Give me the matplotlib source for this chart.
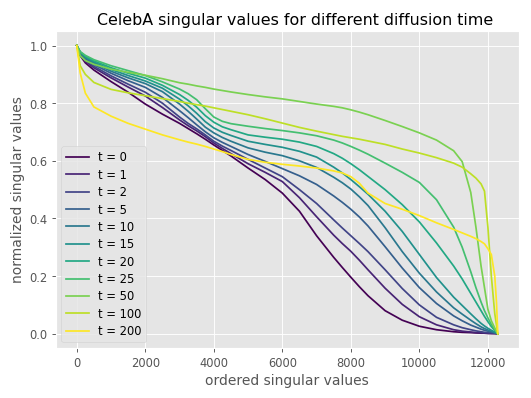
import numpy as np
import matplotlib
matplotlib.use("Agg")
import matplotlib.pyplot as plt

plt.style.use("ggplot")

# ordered singular value index (x positions of read-off points)
xs = [0, 100, 250, 500, 1000, 1500, 2000, 2500, 3000, 3250, 3500, 3750, 4000, 4250, 4500,
      5000, 5500, 6000, 6500, 7000, 7500, 7750, 8000, 8250, 8500, 9000, 9500, 10000,
      10500, 11000, 11250, 11500, 11650, 11800, 11900, 12000, 12100, 12200,
      12250, 12288]

times = [0, 1, 2, 5, 10, 15, 20, 25, 50, 100, 200]

t0 = [1.0, 0.965, 0.94, 0.915, 0.875, 0.838, 0.797, 0.762, 0.73, 0.712, 0.694, 0.675, 0.655, 0.636, 0.617,
      0.575, 0.535, 0.488, 0.425, 0.34, 0.265, 0.23, 0.196, 0.163, 0.132, 0.08, 0.047, 0.026,
      0.014, 0.007, 0.005, 0.004, 0.003, 0.002, 0.002, 0.001, 0.001, 0.0005, 0.0002, 0.0]
t1 = [1.0, 0.968, 0.946, 0.923, 0.888, 0.856, 0.825, 0.785, 0.742, 0.722, 0.704, 0.684, 0.662, 0.643, 0.625,
      0.59, 0.56, 0.528, 0.472, 0.406, 0.342, 0.313, 0.286, 0.255, 0.222, 0.158, 0.102, 0.059,
      0.031, 0.014, 0.009, 0.006, 0.004, 0.003, 0.002, 0.002, 0.001, 0.001, 0.0005, 0.0]
t2 = [1.0, 0.97, 0.95, 0.928, 0.895, 0.866, 0.838, 0.8, 0.752, 0.73, 0.711, 0.69, 0.668, 0.651, 0.636,
      0.605, 0.575, 0.545, 0.5, 0.452, 0.395, 0.367, 0.34, 0.313, 0.285, 0.222, 0.157, 0.1,
      0.057, 0.031, 0.021, 0.014, 0.01, 0.007, 0.005, 0.004, 0.003, 0.002, 0.001, 0.0]
t5 = [1.0, 0.973, 0.954, 0.934, 0.904, 0.878, 0.855, 0.82, 0.774, 0.75, 0.725, 0.701, 0.68, 0.664, 0.65,
      0.622, 0.598, 0.573, 0.548, 0.518, 0.478, 0.456, 0.432, 0.405, 0.374, 0.302, 0.228, 0.16,
      0.105, 0.062, 0.045, 0.03, 0.023, 0.016, 0.012, 0.009, 0.006, 0.003, 0.002, 0.0]
t10 = [1.0, 0.975, 0.957, 0.939, 0.911, 0.888, 0.868, 0.84, 0.797, 0.772, 0.745, 0.717, 0.697, 0.681, 0.668,
       0.645, 0.63, 0.618, 0.6, 0.577, 0.543, 0.524, 0.502, 0.475, 0.445, 0.368, 0.285, 0.21,
       0.145, 0.09, 0.068, 0.047, 0.035, 0.024, 0.018, 0.013, 0.008, 0.004, 0.002, 0.0]
t15 = [1.0, 0.977, 0.96, 0.943, 0.917, 0.896, 0.877, 0.852, 0.814, 0.791, 0.765, 0.736, 0.714, 0.699, 0.688,
       0.668, 0.657, 0.647, 0.633, 0.613, 0.578, 0.558, 0.535, 0.51, 0.484, 0.425, 0.355, 0.275,
       0.195, 0.127, 0.098, 0.069, 0.052, 0.036, 0.027, 0.019, 0.012, 0.006, 0.003, 0.0]
t20 = [1.0, 0.978, 0.963, 0.947, 0.923, 0.904, 0.887, 0.862, 0.83, 0.81, 0.786, 0.757, 0.734, 0.718, 0.708,
       0.69, 0.682, 0.675, 0.665, 0.65, 0.625, 0.609, 0.59, 0.569, 0.546, 0.5, 0.448, 0.388,
       0.315, 0.235, 0.19, 0.14, 0.11, 0.08, 0.06, 0.042, 0.025, 0.012, 0.006, 0.0]
t25 = [1.0, 0.979, 0.966, 0.951, 0.93, 0.913, 0.896, 0.874, 0.849, 0.833, 0.812, 0.781, 0.752, 0.737, 0.729,
       0.72, 0.712, 0.705, 0.697, 0.687, 0.672, 0.662, 0.65, 0.637, 0.623, 0.592, 0.56, 0.525,
       0.465, 0.37, 0.3, 0.215, 0.16, 0.11, 0.08, 0.055, 0.032, 0.014, 0.007, 0.0]
t50 = [1.0, 0.965, 0.948, 0.935, 0.918, 0.907, 0.897, 0.885, 0.871, 0.866, 0.86, 0.855, 0.849, 0.844, 0.839,
       0.83, 0.822, 0.815, 0.806, 0.797, 0.789, 0.784, 0.777, 0.769, 0.76, 0.74, 0.719, 0.697,
       0.672, 0.635, 0.597, 0.49, 0.37, 0.235, 0.16, 0.085, 0.045, 0.02, 0.008, 0.0]
t100 = [1.0, 0.93, 0.9, 0.872, 0.848, 0.836, 0.826, 0.816, 0.806, 0.8, 0.795, 0.79, 0.784, 0.778, 0.772,
        0.76, 0.746, 0.731, 0.716, 0.703, 0.691, 0.685, 0.68, 0.675, 0.669, 0.657, 0.641, 0.627,
        0.611, 0.592, 0.578, 0.555, 0.54, 0.52, 0.495, 0.37, 0.2, 0.07, 0.03, 0.0]
t200 = [1.0, 0.905, 0.835, 0.787, 0.755, 0.73, 0.71, 0.69, 0.673, 0.665, 0.658, 0.65, 0.641, 0.632, 0.622,
        0.605, 0.595, 0.588, 0.582, 0.575, 0.565, 0.558, 0.545, 0.522, 0.488, 0.452, 0.432, 0.41,
        0.385, 0.362, 0.35, 0.338, 0.33, 0.32, 0.312, 0.295, 0.275, 0.2, 0.11, 0.0]

series = [t0, t1, t2, t5, t10, t15, t20, t25, t50, t100, t200]

fig = plt.figure(figsize=(6.4, 4.8), dpi=83)
ax = fig.add_axes([0.1049, 0.1251, 0.8718, 0.7957])
colors = plt.cm.viridis(np.linspace(0, 1, len(times)))
for t, ys, c in zip(times, series, colors):
    ax.plot(xs, ys, color=c, lw=1.5, label=f"t = {t}")

ax.set_xlabel("ordered singular values")
ax.set_ylabel("normalized singular values")
ax.set_title("CelebA singular values for different diffusion time", fontsize=13.8, x=0.517)
ax.legend(loc="lower left", labelspacing=0.38)
fig.savefig("out.png", dpi=83)
